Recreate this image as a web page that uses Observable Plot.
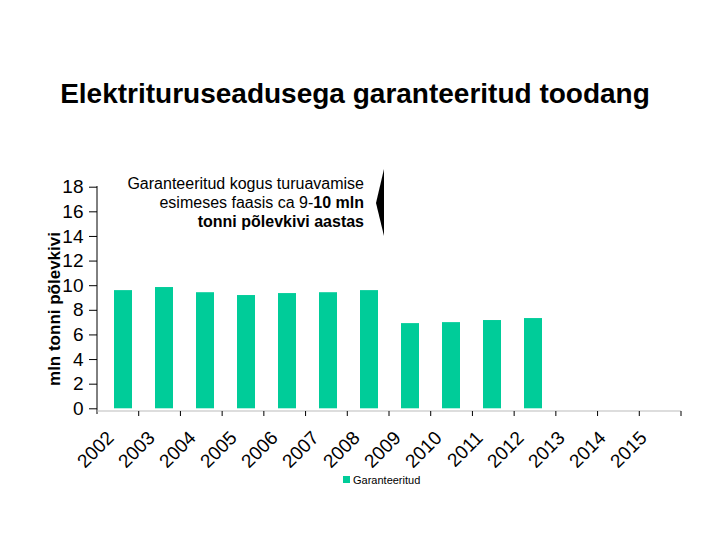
<!DOCTYPE html>
<html><head><meta charset="utf-8">
<script src="https://cdn.jsdelivr.net/npm/d3@7"></script>
<script src="https://cdn.jsdelivr.net/npm/@observablehq/plot@0.6"></script>
<style>body{margin:0;background:#fff;} svg{display:block;}</style>
</head><body><div id="chart"></div>
<script>
const years = ["2002","2003","2004","2005","2006","2007","2008","2009","2010","2011","2012","2013","2014","2015"];
const values = [9.6, 9.85, 9.43, 9.2, 9.36, 9.43, 9.6, 6.92, 7.0, 7.17, 7.33, null, null, null];
const yTicks = [0,2,4,6,8,10,12,14,16,18];
const seriesName = "Garanteeritud";
const title = "Elektrituruseadusega garanteeritud toodang";
const yLabel = "mln tonni põlevkivi";
const green = "#00CC99";
const FONT = "'Liberation Sans', Arial, sans-serif";

const data = years.map((y,i)=>({year:y, value:values[i]})).filter(d=>d.value!=null);

const W=720,H=540, mL=97, mR=39, mT=186.7, mB=131.7;
const chart = Plot.plot({
  width:W, height:H, marginLeft:mL, marginRight:mR, marginTop:mT, marginBottom:mB,
  style:{fontFamily:FONT, background:"#fff", overflow:"visible"},
  x:{type:"band", domain:years, paddingInner:0.57, paddingOuter:0.285, align:0.5},
  y:{domain:[0,18]},
  marks:[
    Plot.barY(data,{x:"year", y:"value", fill:green}),
    Plot.axisY({ticks:yTicks, tickSize:8, tickPadding:6, fontSize:19, label:null, tickFormat:d=>d}),
    Plot.axisX({tickSize:0, tickPadding:0, label:null, tickFormat:()=>""})
  ]
});
document.getElementById("chart").appendChild(chart);

const svg = d3.select(chart);
const xs = chart.scale("x");
const x0 = mL, x1 = W-mR, axY = 411;
// axis lines
svg.append("line").attr("x1",x0).attr("x2",x0).attr("y1",186).attr("y2",axY+3).attr("stroke","#000");
svg.append("line").attr("x1",x0).attr("x2",x1).attr("y1",axY).attr("y2",axY).attr("stroke","#bbb");
// category boundary ticks
const step = (x1-x0)/years.length;
for(let i=1;i<=years.length;i++){
  svg.append("line").attr("x1",x0+i*step).attr("x2",x0+i*step).attr("y1",axY).attr("y2",axY+5).attr("stroke","#000");
}
// rotated year labels
years.forEach((y,i)=>{
  const cx = xs.apply(y) + xs.bandwidth/2;
  svg.append("text").attr("transform",`translate(${cx-8},${axY+28}) rotate(-45)`)
    .attr("text-anchor","end").attr("font-size",19).attr("font-family",FONT)
    .attr("fill","#000").text(y);
});
// y label
svg.append("text").attr("transform","translate(60,309) rotate(-90)").attr("text-anchor","middle")
  .attr("font-size",17).attr("font-weight","bold").attr("font-family",FONT).text(yLabel);
// title
svg.append("text").attr("x",355).attr("y",103).attr("text-anchor","middle").attr("font-size",28)
  .attr("font-weight","bold").attr("font-family",FONT).text(title);
// annotation
const ann = svg.append("g").attr("font-family",FONT).attr("font-size",16).attr("text-anchor","end");
ann.append("text").attr("x",364).attr("y",189).text("Garanteeritud kogus turuavamise");
const t2 = ann.append("text").attr("x",364).attr("y",208);
t2.append("tspan").text("esimeses faasis ca 9-");
t2.append("tspan").attr("font-weight","bold").text("10 mln");
ann.append("text").attr("x",364).attr("y",227).attr("font-weight","bold").text("tonni põlevkivi aastas");
svg.append("path").attr("d","M384,169 L376,203 L384,236 Z").attr("fill","#000");
// legend
svg.append("rect").attr("x",343).attr("y",476).attr("width",7).attr("height",7).attr("fill",green);
svg.append("text").attr("x",353).attr("y",484).attr("font-size",11).attr("text-anchor","start")
  .attr("font-family","'Liberation Sans Narrow', 'Liberation Sans', Arial, sans-serif").text(seriesName);
</script></body></html>
